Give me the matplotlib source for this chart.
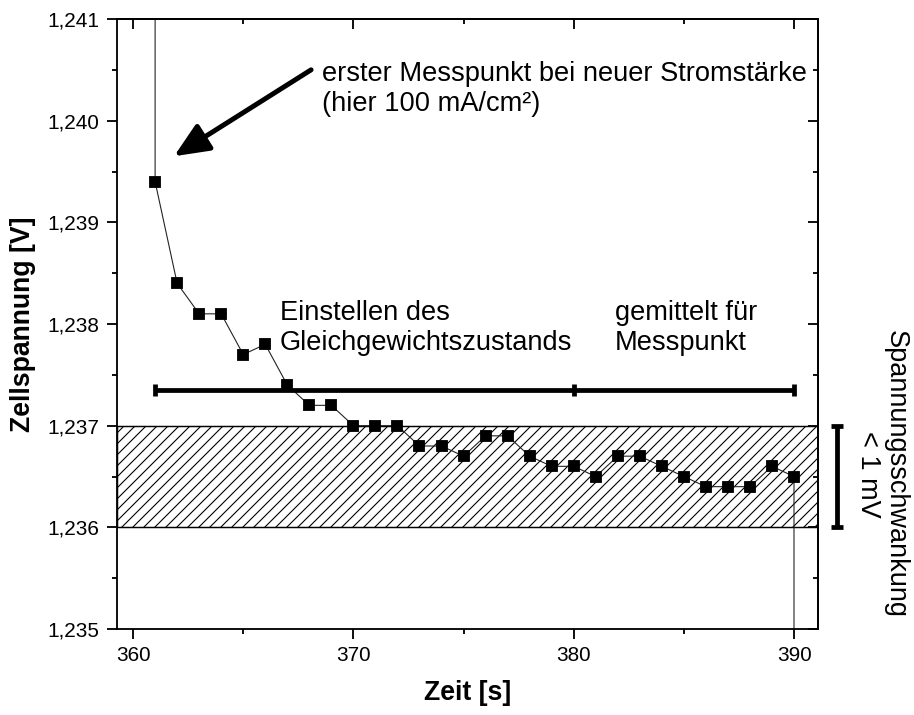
import matplotlib
matplotlib.use("Agg")
import matplotlib.pyplot as plt
import matplotlib.transforms as mtransforms
from matplotlib.ticker import MultipleLocator, FuncFormatter

plt.rcParams["font.family"] = ["Liberation Sans", "DejaVu Sans"]
plt.rcParams["hatch.linewidth"] = 0.6

# Zeitreihe der Zellspannung (inkl. Sprung vom vorherigen / zum naechsten Stromwert)
zeit = [361, 361, 362, 363, 364, 365, 366, 367, 368, 369, 370,
        371, 372, 373, 374, 375, 376, 377, 378, 379, 380,
        381, 382, 383, 384, 385, 386, 387, 388, 389, 390, 390]
spannung = [1.2500, 1.2394, 1.2384, 1.2381, 1.2381, 1.2377, 1.2378, 1.2374, 1.2372, 1.2372, 1.2370,
            1.2370, 1.2370, 1.2368, 1.2368, 1.2367, 1.2369, 1.2369, 1.2367, 1.2366, 1.2366,
            1.2365, 1.2367, 1.2367, 1.2366, 1.2365, 1.2364, 1.2364, 1.2364, 1.2366, 1.2365, 1.2250]

# Bereiche: Einstellen (361-380) und Mittelung (380-390)
bereich_x = [361, 380, 390]
bereich_y = 1.23735

# Schwankungsband
band_unten = 1.236
band_oben = 1.237

DPI = 132
fig = plt.figure(figsize=(914 / DPI, 715 / DPI), dpi=DPI)
ax = fig.add_axes([117 / 914, 1 - 629 / 715, 701 / 914, 610 / 715])

ax.set_xlim(359.27, 391.09)
ax.set_ylim(1.235, 1.241)

# schraffiertes Band
ax.axhspan(band_unten, band_oben, fill=False, hatch="////", edgecolor="black",
           linewidth=0.8, zorder=1)

# Messreihe
ax.plot(zeit, spannung, color="#222222", linewidth=0.6, zorder=2)
ax.plot(zeit, spannung, linestyle="none", marker="s", markersize=5.3,
        color="black", zorder=3)

# Balken fuer die Bereiche
ax.plot([bereich_x[0], bereich_x[-1]], [bereich_y, bereich_y],
        color="black", linewidth=2.6, solid_capstyle="butt", zorder=4)
ax.plot(bereich_x, [bereich_y] * len(bereich_x), linestyle="none",
        marker="|", markersize=6.5, markeredgewidth=2.6, color="black", zorder=4)

# Balken rechts neben der Achse: Spannungsschwankung
trans = mtransforms.blended_transform_factory(ax.transAxes, ax.transData)
ax.plot([1.027, 1.027], [band_unten, band_oben], color="black", linewidth=2.6,
        transform=trans, clip_on=False, solid_capstyle="butt")
ax.plot([1.027, 1.027], [band_unten, band_oben], linestyle="none", marker="_",
        markersize=6.5, markeredgewidth=2.6, color="black",
        transform=trans, clip_on=False)
ax.text(1.091, 1.23652, "Spannungsschwankung\n< 1 mV", transform=trans,
        rotation=270, ha="center", va="center", multialignment="center",
        fontsize=14.8, linespacing=1.05)

# Beschriftungen im Diagramm (y = Grundlinie der letzten Zeile)
ax.text(368.58, 1.24010, "erster Messpunkt bei neuer Stromstärke\n(hier 100 mA/cm²)",
        ha="left", va="baseline", fontsize=14.9)
ax.text(366.67, 1.237744, "Einstellen des\nGleichgewichtszustands",
        ha="left", va="baseline", fontsize=14.9)
ax.text(381.88, 1.237744, "gemittelt für\nMesspunkt",
        ha="left", va="baseline", fontsize=14.9)

ax.annotate("", xy=(361.86, 1.23965), xytext=(368.08, 1.2405),
            arrowprops=dict(arrowstyle="-|>,head_length=0.8,head_width=0.35",
                            color="black", linewidth=2.7, mutation_scale=20,
                            shrinkA=0, shrinkB=0))

# Achsen
ax.xaxis.set_major_locator(MultipleLocator(10))
ax.xaxis.set_minor_locator(MultipleLocator(5))
ax.yaxis.set_major_locator(MultipleLocator(0.001))
ax.yaxis.set_minor_locator(MultipleLocator(0.0005))
ax.yaxis.set_major_formatter(FuncFormatter(lambda v, p: f"{v:.3f}".replace(".", ",")))

for s in ax.spines.values():
    s.set_linewidth(1.0)

ax.tick_params(which="major", direction="out", length=5.5, width=1.0,
               labelsize=11.3, pad=4)
ax.tick_params(which="minor", direction="out", length=2.8, width=1.0)

top = ax.secondary_xaxis("top")
top.xaxis.set_major_locator(MultipleLocator(10))
top.xaxis.set_minor_locator(MultipleLocator(5))
top.tick_params(which="major", direction="in", length=5.5, width=1.0, labeltop=False)
top.tick_params(which="minor", direction="in", length=2.8, width=1.0)
top.spines["top"].set_linewidth(1.0)

right = ax.secondary_yaxis("right")
right.yaxis.set_major_locator(MultipleLocator(0.001))
right.yaxis.set_minor_locator(MultipleLocator(0.0005))
right.tick_params(which="major", direction="in", length=5.5, width=1.0, labelright=False)
right.tick_params(which="minor", direction="in", length=2.8, width=1.0)
right.spines["right"].set_linewidth(1.0)

ax.set_xlabel("Zeit [s]", fontsize=14.5, fontweight="bold", labelpad=8)
ax.set_ylabel("Zellspannung [V]", fontsize=14.5, fontweight="bold", labelpad=6.5)

fig.savefig("out.png", dpi=DPI)
